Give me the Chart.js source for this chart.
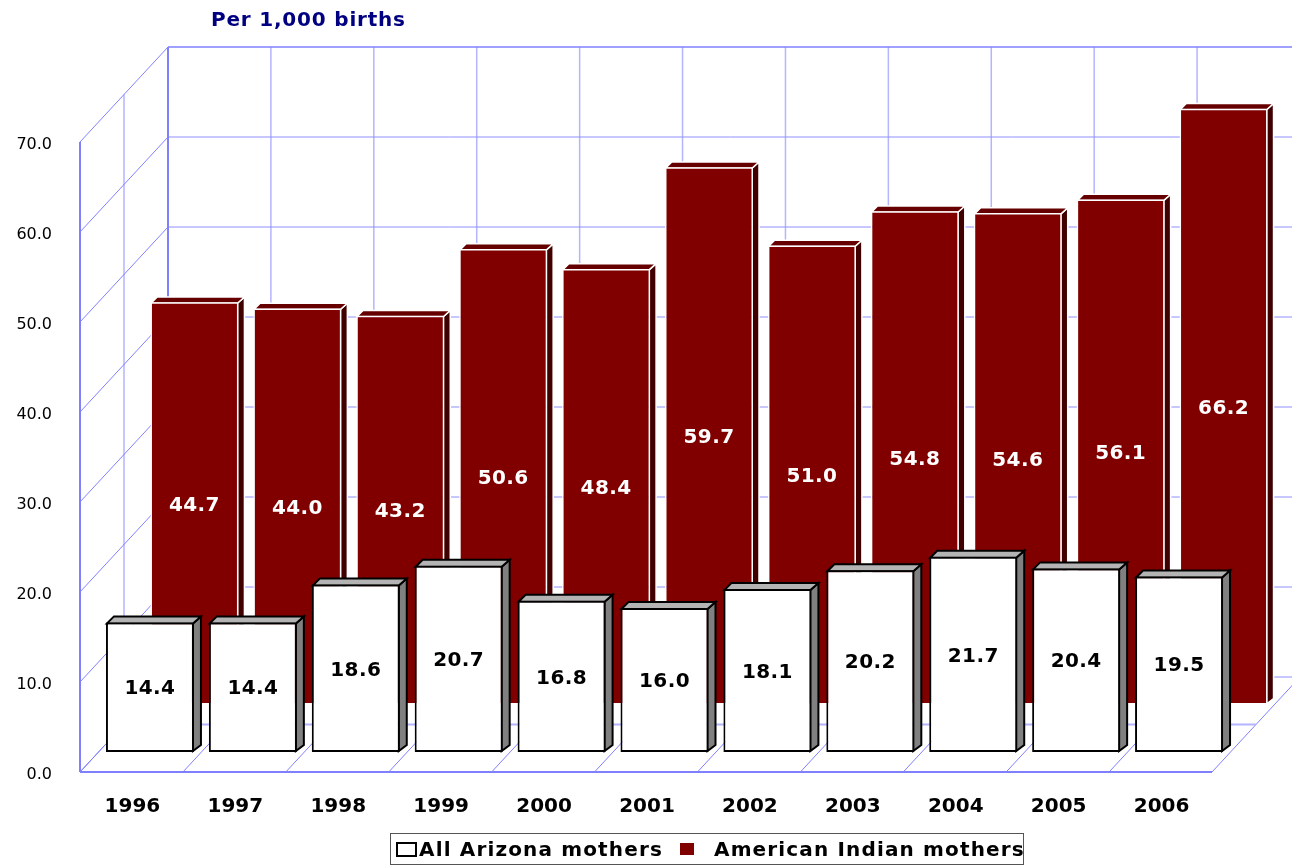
<!DOCTYPE html>
<html>
<head>
<meta charset="utf-8">
<title>Per 1,000 births</title>
<style>
    html, body { margin: 0; padding: 0; background: #fff; }
    canvas { display: block; }
</style>
<script src="https://cdn.jsdelivr.net/npm/chart.js@4"></script>
</head>
<body>
<canvas id="chart-births" width="1292" height="865"></canvas>
<script>
//*** DATA ***//
const chartTitle = 'Per 1,000 births';
const years = ['1996', '1997', '1998', '1999', '2000', '2001', '2002', '2003', '2004', '2005', '2006'];
const allArizona = [14.4, 14.4, 18.6, 20.7, 16.8, 16.0, 18.1, 20.2, 21.7, 20.4, 19.5];
const americanIndian = [44.7, 44.0, 43.2, 50.6, 48.4, 59.7, 51.0, 54.8, 54.6, 56.1, 66.2];
const seriesNames = ['All Arizona mothers', 'American Indian mothers'];

//*** LOOK ***//
const FONT = '"DejaVu Sans", Verdana, sans-serif';
const WALL = { x: 88, y: -95 };
const looks = [
    { dx: 18.5, dy: -20, depth: 7, top: '#b4b4b4', side: '#808080', edge: '#000000', edgeWidth: 2, text: '#000000', textShift: 2 },
    { dx: 63, dy: -67.5, depth: 6, top: '#660000', side: '#400000', edge: '#ffffff', edgeWidth: 1.5, text: '#ffffff', textShift: 2 }
];

const line = (ctx, x1, y1, x2, y2, color, width) => {
    ctx.strokeStyle = color;
    ctx.lineWidth = width;
    ctx.beginPath();
    ctx.moveTo(x1, y1);
    ctx.lineTo(x2, y2);
    ctx.stroke();
}

const face = (ctx, points, fill, look) => {
    ctx.fillStyle = fill;
    ctx.strokeStyle = look.edge;
    ctx.lineWidth = look.edgeWidth;
    ctx.beginPath();
    points.forEach(([x, y], i) => i ? ctx.lineTo(x, y) : ctx.moveTo(x, y));
    ctx.closePath();
    ctx.fill();
    ctx.stroke();
}

// walls and floor of the box, worked out from the scales
const boxGrid = {
    id: 'boxGrid',
    beforeDatasetsDraw(chart) {
        const { ctx, scales: { y } } = chart;
        const { left, right, top, bottom } = chart.chartArea;
        const midX = WALL.x / 2, midY = WALL.y / 2;
        const strong = '#8080ff', soft = '#b4b4ff';
        const step = (right - left) / years.length;
        ctx.save();

        // floor
        for (let i = 0; i <= years.length; i++) {
            const px = left + step * i;
            line(ctx, px, bottom, px + WALL.x, bottom + WALL.y, strong, 1);
            if (i > 0 && i < years.length) line(ctx, px + WALL.x, top + WALL.y, px + WALL.x, bottom + WALL.y, soft, 1.5);
        }
        line(ctx, left + midX, bottom + midY, right + midX, bottom + midY, soft, 2);

        // left wall and back wall
        line(ctx, left + midX, top + midY, left + midX, bottom + midY, soft, 1.5);
        y.ticks.forEach(tick => {
            const py = y.getPixelForValue(tick.value);
            line(ctx, left, py, left + WALL.x, py + WALL.y, strong, 1);
            line(ctx, left + WALL.x, py + WALL.y, right + WALL.x, py + WALL.y, tick.value === 70 ? strong : '#9090ff', tick.value === 70 ? 1.5 : 1);
        });
        line(ctx, left, top, left, bottom, strong, 2);
        line(ctx, left + WALL.x, top + WALL.y, left + WALL.x, bottom + WALL.y, strong, 2);
        line(ctx, left, bottom, right, bottom, strong, 2);
        ctx.restore();
    }
};

// shifts each series into its row and adds the top and side of every bar
const boxBars = {
    id: 'boxBars',
    beforeDatasetDraw(chart, args) {
        const { ctx } = chart;
        const look = looks[args.index];
        ctx.save();
        ctx.translate(look.dx, look.dy);
        args.meta.data.forEach(bar => {
            const { x, y, base, width } = bar.getProps(['x', 'y', 'base', 'width']);
            const l = x - width / 2, r = x + width / 2, d = look.depth;
            const inset = look.edgeWidth / 2;
            face(ctx, [[r - inset, y + inset], [r + d, y - d + inset], [r + d, base - d], [r - inset, base - inset]], look.side, look);
            face(ctx, [[l + inset, y + inset], [l + d + inset, y - d + inset], [r + d, y - d + inset], [r - inset, y + inset]], look.top, look);
        });
    },
    afterDatasetDraw(chart, args) {
        const { ctx } = chart;
        const look = looks[args.index];
        const values = chart.data.datasets[args.index].data;
        ctx.font = 'bold 20px ' + FONT;
        ctx.letterSpacing = '0.4px';
        ctx.textAlign = 'center';
        ctx.textBaseline = 'middle';
        ctx.fillStyle = look.text;
        args.meta.data.forEach((bar, i) => {
            const { x, y, base } = bar.getProps(['x', 'y', 'base']);
            ctx.fillText(values[i].toFixed(1), x, (y + base) / 2 + look.textShift);
        });
        ctx.restore();
    }
};

// heading and framed legend
const labelsAround = {
    id: 'labelsAround',
    afterDraw(chart) {
        const { ctx } = chart;
        ctx.save();
        ctx.textBaseline = 'middle';
        ctx.textAlign = 'left';
        ctx.letterSpacing = '0.8px';
        ctx.font = 'bold 20px ' + FONT;
        ctx.fillStyle = '#000080';
        ctx.fillText(chartTitle, 211, 21);

        ctx.strokeStyle = '#555555';
        ctx.lineWidth = 1;
        ctx.strokeRect(390.5, 833.5, 633, 31);
        ctx.fillStyle = '#ffffff';
        ctx.strokeStyle = '#000000';
        ctx.lineWidth = 2;
        ctx.fillRect(397, 843, 19, 13);
        ctx.strokeRect(397, 843, 19, 13);
        ctx.fillStyle = '#800000';
        ctx.fillRect(680, 843, 14, 12);

        ctx.fillStyle = '#000000';
        ctx.letterSpacing = '1.15px';
        ctx.font = 'bold 20px ' + FONT;
        ctx.fillText(seriesNames[0], 419, 851);
        ctx.fillText(seriesNames[1], 714, 851);
        ctx.restore();
    }
};

//*** CHART ***//
new Chart(document.getElementById('chart-births'), {
    type: 'bar',
    data: {
        labels: years,
        datasets: [{
            label: seriesNames[0],
            data: allArizona,
            backgroundColor: '#ffffff',
            borderColor: '#000000',
            borderWidth: 2
        }, {
            label: seriesNames[1],
            data: americanIndian,
            backgroundColor: '#800000',
            borderColor: '#ffffff',
            borderWidth: 1.5
        }]
    },
    options: {
        responsive: false,
        animation: false,
        layout: { padding: { top: 142, right: 80 } },
        datasets: {
            bar: {
                grouped: false,
                categoryPercentage: 1,
                barPercentage: 0.855,
                borderSkipped: false,
                clip: false
            }
        },
        plugins: {
            legend: { display: false },
            title: { display: false },
            tooltip: { enabled: false }
        },
        scales: {
            x: {
                grid: { display: false },
                border: { display: false },
                afterFit: axis => { axis.height = 93; },
                ticks: {
                    padding: 15,
                    color: '#000000',
                    maxRotation: 0,
                    labelOffset: 1,
                    font: { family: FONT, size: 20, weight: 'bold' }
                }
            },
            y: {
                min: 0,
                max: 70,
                grid: { display: false, drawTicks: false },
                border: { display: false },
                afterFit: axis => { axis.width = 80; },
                ticks: {
                    stepSize: 10,
                    padding: 28,
                    labelOffset: 3,
                    color: '#000000',
                    font: { family: FONT, size: 16 },
                    callback: value => value.toFixed(1)
                }
            }
        }
    },
    plugins: [boxGrid, boxBars, labelsAround]
});
</script>
</body>
</html>
